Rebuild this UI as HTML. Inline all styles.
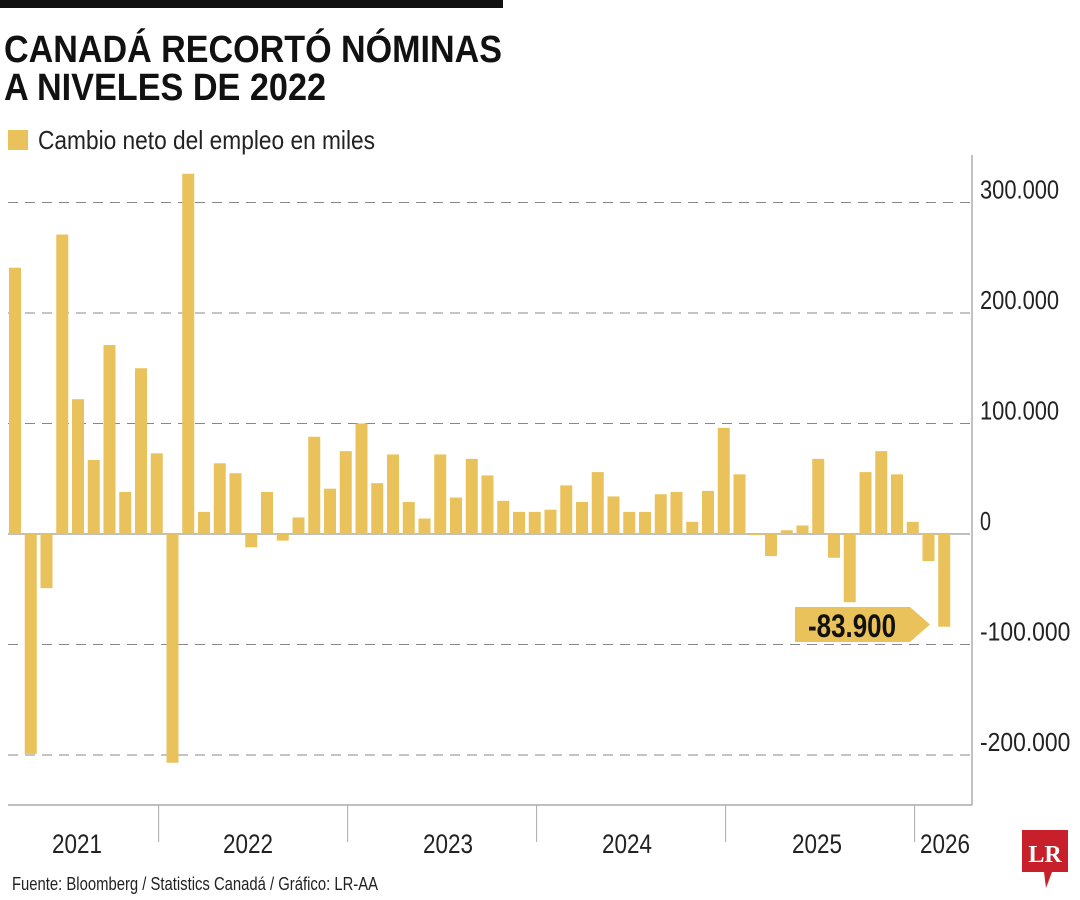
<!DOCTYPE html>
<html><head><meta charset="utf-8">
<style>
body{margin:0;background:#fff;width:1080px;height:900px;overflow:hidden;font-family:"Liberation Sans Narrow","Liberation Sans",sans-serif;}
svg{display:block}
</style></head><body>
<svg id="chart" width="1080" height="900">
<rect x="0" y="0" width="503" height="8" fill="#111"/>
<text x="4" y="62" font-size="38" font-weight="bold" fill="#111" textLength="498" lengthAdjust="spacingAndGlyphs">CANADÁ RECORTÓ NÓMINAS</text>
<text x="4" y="100" font-size="38" font-weight="bold" fill="#111" textLength="322" lengthAdjust="spacingAndGlyphs">A NIVELES DE 2022</text>
<rect x="8" y="130" width="20" height="20" fill="#E9C25B"/>
<text x="38" y="149" font-size="26" fill="#222" textLength="337" lengthAdjust="spacingAndGlyphs">Cambio neto del empleo en miles</text>
<line x1="972" y1="155" x2="972" y2="805" stroke="#999" stroke-width="1.2"/>
<line x1="8" y1="805" x2="972" y2="805" stroke="#999" stroke-width="1.2"/>
<g id="grid"></g><g id="bars"></g><g id="xaxis"></g>
<g>
<path d="M795,607 L910,607 L930,624.5 L910,642 L795,642 Z" fill="#E9C25B"/>
<text x="852" y="637" font-size="32" font-weight="bold" fill="#111" text-anchor="middle" textLength="88" lengthAdjust="spacingAndGlyphs">-83.900</text>
</g>
<text x="12" y="890" font-size="18" fill="#222" textLength="366" lengthAdjust="spacingAndGlyphs">Fuente: Bloomberg / Statistics Canadá / Gráfico: LR-AA</text>
<g>
<path d="M1022,830 L1068,830 L1068,872 L1052,872 L1046,888 L1044,872 L1022,872 Z" fill="#C8202A"/>
<text x="1045" y="862" font-size="24" font-weight="bold" fill="#fff" text-anchor="middle" font-family="Liberation Serif,serif">LR</text>
</g>
</svg>
<script>
const values=[241,-199,-49,271,122,67,171,38,150,73,-207,326,20,64,55,-12,38,-6,15,88,41,75,100,46,72,29,14,72,33,68,53,30,20,20,22,44,29,56,34,20,20,36,38,11,39,96,54,-1,-20,3.4,7.7,68,-21.5,-61.7,56,75,54,11,-24.5,-83.9];
const yTicks=[300,200,100,0,-100,-200];
const yTickLabels=["300.000","200.000","100.000","0","-100.000","-200.000"];
const years=["2021","2022","2023","2024","2025","2026"];
const yearSepIdx=[10,22,34,46,58];
const yearLabelX=[77,248,448,627,817,945];
const x0=9,pitch=15.75,barW=12,zeroY=534,pxPer=1.105;
const y=v=>zeroY-v*pxPer;
const xb=i=>x0+i*pitch;
const NS="http://www.w3.org/2000/svg";
const mk=(t,a)=>{const e=document.createElementNS(NS,t);for(const k in a)e.setAttribute(k,a[k]);return e;};
const grid=document.getElementById('grid');
yTicks.forEach((t,i)=>{
 const l=mk('line',{x1:8,x2:970,y1:y(t),y2:y(t),stroke:t===0?'#999':'#888','stroke-width':t===0?1.3:1,'stroke-dasharray':t===0?'none':'10,7'});
 
 
 grid.appendChild(l);
 const lab=yTickLabels[i];
 const w=lab.length===1?11:(lab.length*11.3);
 const tx=mk('text',{x:980,y:y(t)-4,'font-size':26,fill:'#222',textLength:w,lengthAdjust:'spacingAndGlyphs'});
 tx.textContent=lab;
 
 
 grid.appendChild(tx);
});
const bars=document.getElementById('bars');
values.forEach((v,i)=>{
 const top=Math.min(y(v),zeroY),h=Math.max(Math.abs(y(v)-zeroY),1);
 const r=mk('rect',{x:xb(i),y:top,width:barW,height:h,fill:'#E9C25B'});
 
 
 bars.appendChild(r);
});
const xa=document.getElementById('xaxis');
yearSepIdx.forEach(k=>{
 const sx=x0+(k-0.5)*pitch;
 const l=mk('line',{x1:sx,x2:sx,y1:805,y2:842,stroke:'#aaa','stroke-width':1});
 
 
 xa.appendChild(l);
});
years.forEach((yr,i)=>{
 const t=mk('text',{x:yearLabelX[i]-25,y:853,'font-size':27,fill:'#222',textLength:50,lengthAdjust:'spacingAndGlyphs'});
 t.textContent=yr;
 
 
 xa.appendChild(t);
});
</script>
</body></html>
